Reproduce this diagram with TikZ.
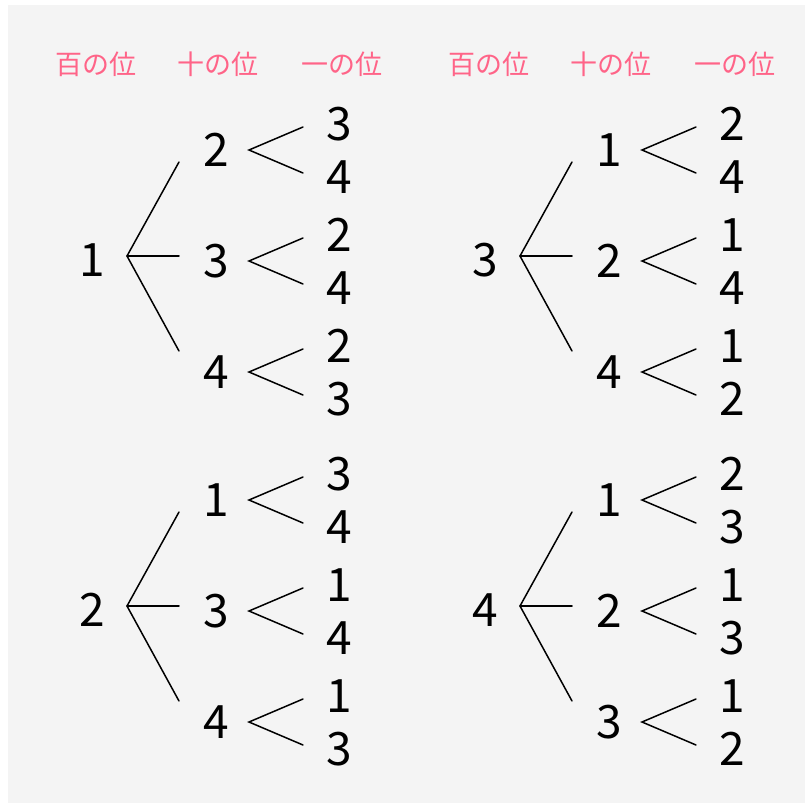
\documentclass[tikz,border=0pt]{standalone}
\usepackage{fontspec}
\newfontfamily\jp{Noto Sans CJK JP}
\definecolor{bg}{HTML}{F4F4F4}
\definecolor{pinklab}{HTML}{FF6488}
\tikzset{
  digit/.style={font=\jp\fontsize{46}{46}\selectfont, inner sep=0pt, anchor=center},
  hdr/.style={font=\jp\fontsize{27}{27}\selectfont, text=pinklab, inner sep=0pt},
  br/.style={line width=1.5pt, line cap=round, line join=miter}
}
\begin{document}
\begin{tikzpicture}[x=1pt,y=-1pt]
\useasboundingbox (0,0) rectangle (805,803);
\fill[bg] (8,5) rectangle (805,803);
\foreach \hx/\hn in {0/L,393/R}{
  \node[hdr] (h1\hn) at (96+\hx,64) {百の位};
  \node[hdr] (h2\hn) at (218+\hx,64) {十の位};
  \node[hdr] (h3\hn) at (342+\hx,64) {一の位};
}
\foreach \p/\dx/\dy/\r/\a/\aa/\ab/\b/\ba/\bb/\c/\ca/\cb in {
  A/0/0/1/2/3/4/3/2/4/4/2/3,
  B/393/0/3/1/2/4/2/1/4/4/1/2,
  C/0/350/2/1/3/4/3/1/4/4/1/3,
  D/393/350/4/1/2/3/2/1/3/3/1/2}{
  \begin{scope}[shift={(\dx,\dy)}]
    \node[digit] (\p r) at (92,260) {\r};
    \coordinate (\p j) at (127,256);
    \coordinate (\p e1) at (179,162);
    \coordinate (\p e2) at (179,256);
    \coordinate (\p e3) at (179,351);
    \draw[br] (\p e1) -- (\p j) -- (\p e3);
    \draw[br] (\p j) -- (\p e2);
    \foreach \k/\m/\t/\u/\yy in {1/\a/\aa/\ab/150, 2/\b/\ba/\bb/261, 3/\c/\ca/\cb/372}{
      \node[digit] (\p m\k) at (216,\yy) {\m};
      \coordinate (\p v\k) at (249,\yy);
      \coordinate (\p s\k) at (303,\yy-23);
      \coordinate (\p t\k) at (303,\yy+23);
      \draw[br] (\p s\k) -- (\p v\k) -- (\p t\k);
      \node[digit] (\p x\k) at (339,\yy-26) {\t};
      \node[digit] (\p y\k) at (339,\yy+27) {\u};
    }
  \end{scope}
}
\end{tikzpicture}
\end{document}
